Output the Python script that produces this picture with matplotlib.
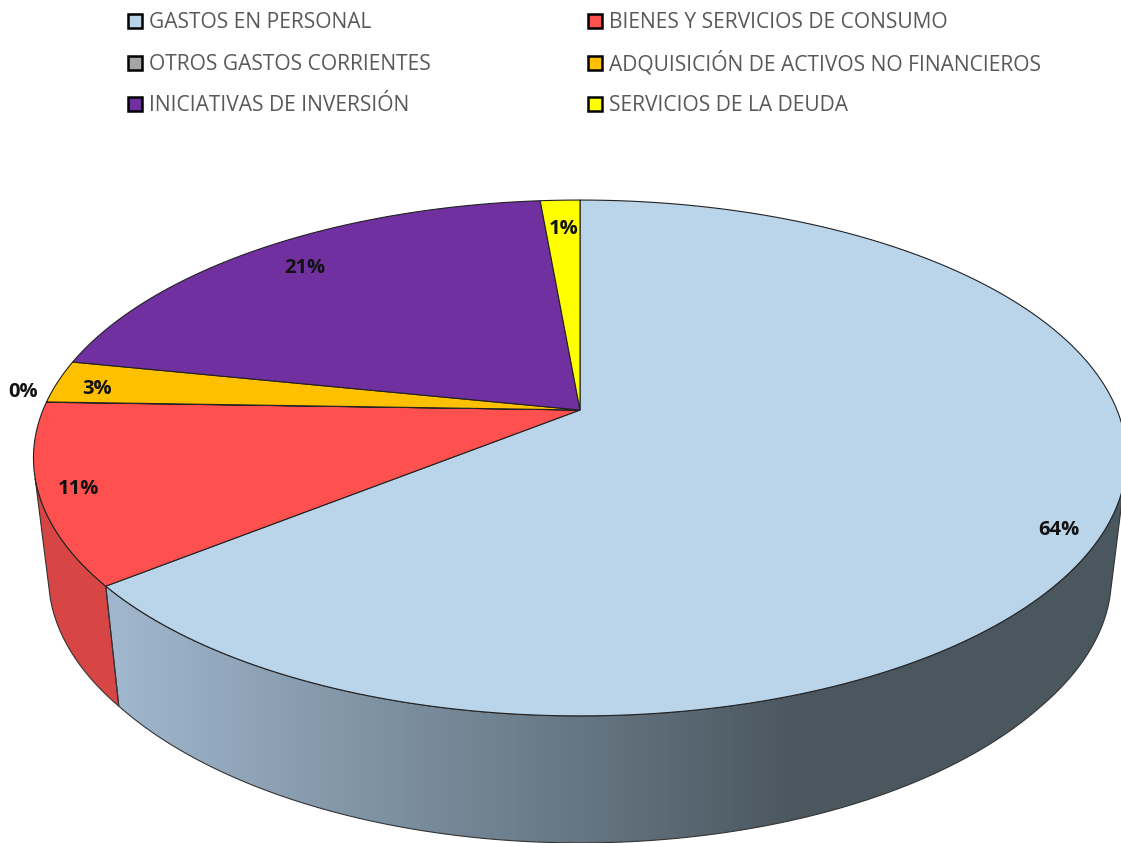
import numpy as np
import matplotlib
matplotlib.use("Agg")
import matplotlib.pyplot as plt
from matplotlib.colors import LinearSegmentedColormap
from matplotlib.patches import Polygon, Rectangle

categories = [
    "GASTOS EN PERSONAL",
    "BIENES Y SERVICIOS DE CONSUMO",
    "OTROS GASTOS CORRIENTES",
    "ADQUISICIÓN DE ACTIVOS NO FINANCIEROS",
    "INICIATIVAS DE INVERSIÓN",
    "SERVICIOS DE LA DEUDA",
]
values = [64.25, 11.25, 0.02, 2.68, 20.4, 1.4]
labels = ["64%", "11%", "0%", "3%", "21%", "1%"]
colors = ["#bad4ea", "#ff5050", "#a5a5a5", "#ffc000", "#7030a0", "#ffff00"]

label_xy = [(1059, 530), (78, 489), (23, 392), (97, 389), (305, 268), (564, 229)]
legend_xy = [(135, 21), (595, 21), (135, 63), (595, 63), (135, 104), (595, 104)]

W, H = 1121, 843
CX, CY = 580, 410
A, B, K = 537, 249, 0.186
FONT = "Open Sans"


def rim(t0, t1, n=200):
    # t in percent, clockwise from 12 o'clock, projected with perspective
    t = np.radians(np.linspace(t0, t1, n) * 3.6)
    w = 1 + K * np.cos(t)
    return CX + A * np.sin(t) / w, CY - B * np.cos(t) / w


def lower(x, y):
    return CX + (x - CX) * 0.9725, y + np.interp(y, [478, 588, 716], [119, 120, 127])


def wall(t0, t1):
    x, y = rim(t0, t1)
    xb, yb = lower(x, y)
    return np.r_[x, xb[::-1]], np.r_[y, yb[::-1]]


fig, ax = plt.subplots(figsize=(W / 100, H / 100), dpi=100)
ax.set_position([0, 0, 1, 1])
ax.axis("off")

edges = np.cumsum([0] + values)

# side walls, only what faces the viewer
blue_wall = LinearSegmentedColormap.from_list("w", ["#9fb6cc", "#4a575f"])
wx, wy = wall(29.2, edges[1])
grad = np.clip((np.arange(W) - 120) / 680, 0, 1).reshape(1, -1)
im = ax.imshow(grad, extent=(0, W, H, 0), cmap=blue_wall, aspect="auto", zorder=1)
poly = Polygon(np.c_[wx, wy], closed=True, facecolor="none", edgecolor="#333333", lw=0.8, zorder=2)
ax.add_patch(poly)
im.set_clip_path(poly)

rx, ry = wall(edges[1], 70.8)
ax.add_patch(Polygon(np.c_[rx, ry], closed=True, facecolor="#d84545", edgecolor="#333333", lw=0.8, zorder=1.5))

# top face
for i, v in enumerate(values):
    x, y = rim(edges[i], edges[i + 1])
    pts = np.c_[np.r_[CX, x], np.r_[CY, y]]
    ax.add_patch(Polygon(pts, closed=True, facecolor=colors[i], edgecolor="#222222", lw=0.8, zorder=3))

for (x, y), s in zip(label_xy, labels):
    ax.text(x, y, s, fontsize=14.5, fontweight="bold", family=FONT, color="#111111",
            ha="center", va="center", zorder=5)

for (x, y), name, c in zip(legend_xy, categories, colors):
    ax.add_patch(Rectangle((x - 7, y - 7), 14, 14, facecolor=c, edgecolor="black", lw=1.8, zorder=5))
    ax.text(x + 14, y + 7, name, fontsize=15.1, family=FONT, color="#595959", ha="left", va="baseline", zorder=5)

ax.set_xlim(0, W)
ax.set_ylim(H, 0)
fig.savefig("out.png", dpi=100, facecolor="white")
